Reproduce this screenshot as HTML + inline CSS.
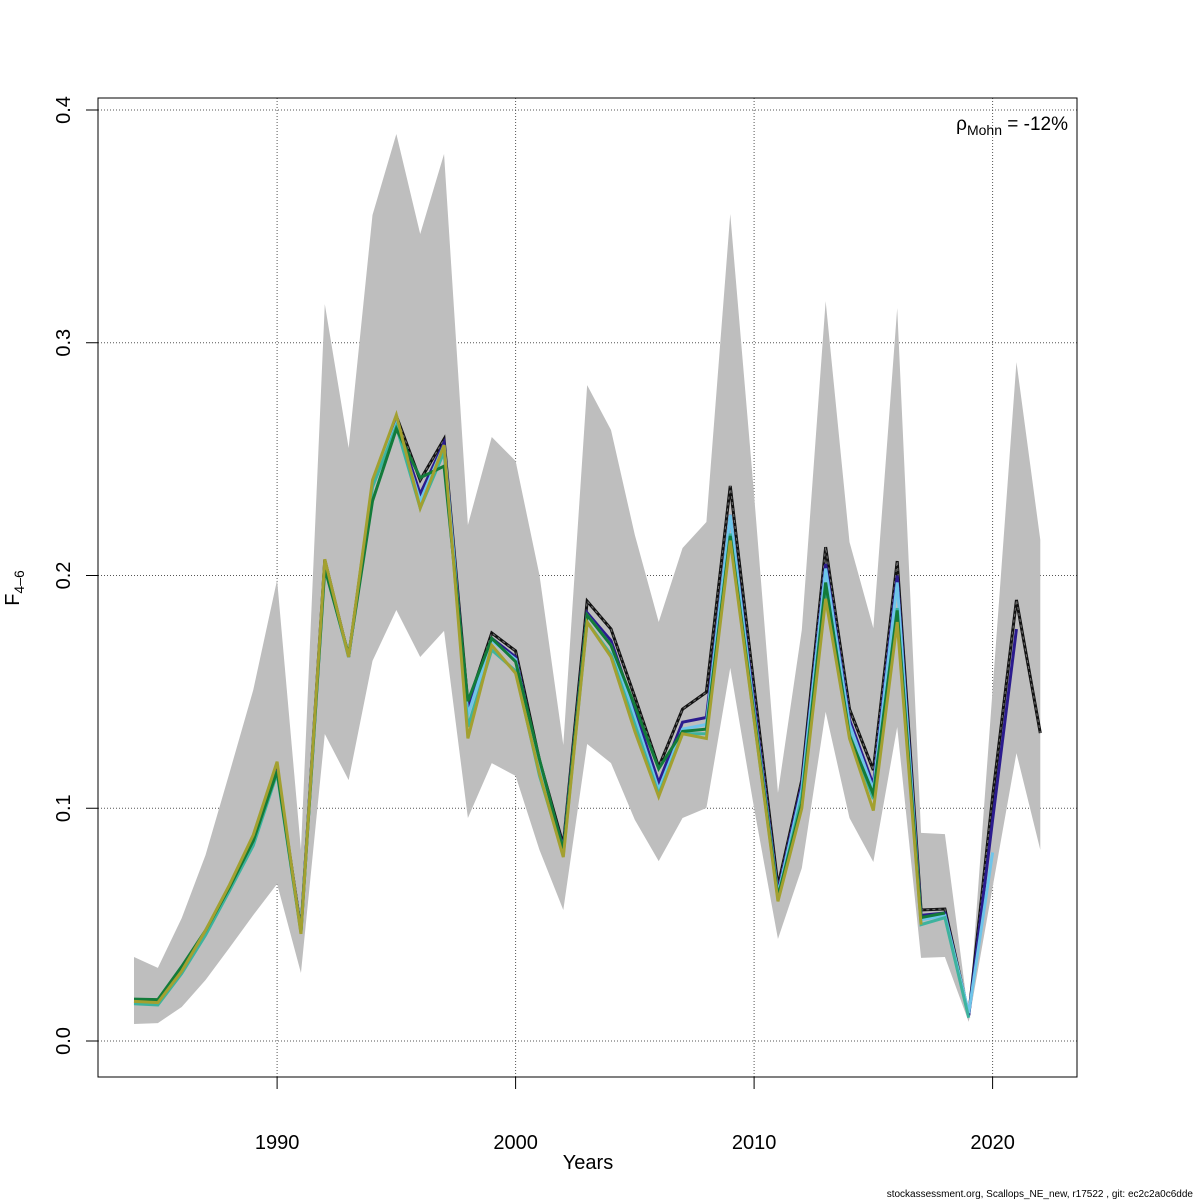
<!DOCTYPE html>
<html><head><meta charset="utf-8"><style>
html,body{margin:0;padding:0;background:#fff;}
svg{display:block;font-family:"Liberation Sans",sans-serif;}
</style></head><body>
<svg id="chart" width="1200" height="1200" viewBox="0 0 1200 1200" xmlns="http://www.w3.org/2000/svg">
<rect x="0" y="0" width="1200" height="1200" fill="#fff"/>
<g id="grid"></g>
<g id="band"></g>
<g id="main"></g>
<g id="peels"></g>
<rect x="98" y="98" width="979" height="979" fill="none" stroke="#000" stroke-width="1"/>
<g id="axes"></g>
<text x="588" y="1169" font-size="20" text-anchor="middle">Years</text>
<text transform="translate(19,588) rotate(-90)" font-size="20" text-anchor="middle">F<tspan font-size="14" dy="5">4–6</tspan></text>
<text x="1068" y="130" font-size="19" text-anchor="end">ρ<tspan font-size="14" dy="5">Mohn</tspan><tspan dy="-5"> = -12%</tspan></text>
<text x="1193" y="1197" font-size="10" text-anchor="end">stockassessment.org, Scallops_NE_new, r17522 , git: ec2c2a0c6dde</text>
</svg>
<script>
const years = [1984,1985,1986,1987,1988,1989,1990,1991,1992,1993,1994,1995,1996,1997,1998,1999,2000,2001,2002,2003,2004,2005,2006,2007,2008,2009,2010,2011,2012,2013,2014,2015,2016,2017,2018,2019,2020,2021,2022];
const mainF = [.0172,.0168,.0305,.0468,.0657,.0855,.1170,.0477,.2067,.1650,.2393,.2685,.2410,.2586,.1448,.1753,.1676,.1207,.0842,.1890,.1770,.1478,.1177,.1426,.1499,.2385,.1520,.0666,.1121,.2122,.1426,.1164,.2062,.0563,.0567,.0112,.1050,.1895,.1323];
const upperF = [.0361,.0314,.0528,.0799,.1151,.1508,.1981,.0821,.3166,.2548,.3549,.3897,.3467,.3811,.2217,.2595,.2492,.2002,.1272,.2818,.2625,.2174,.1800,.2118,.2230,.3553,.2346,.1066,.1766,.3179,.2144,.1774,.3149,.0894,.0889,.0103,.1510,.2917,.2153];
const lowerF = [.0073,.0077,.0146,.0262,.0400,.0541,.0675,.0292,.1319,.1121,.1633,.1852,.1650,.1762,.0958,.1194,.1139,.0821,.0563,.1276,.1194,.0950,.0773,.0958,.1001,.1603,.1000,.0438,.0743,.1414,.0958,.0769,.1349,.0357,.0361,.0082,.0660,.1237,.0821];
const peelBlue = [.0165,.0162,.0300,.0465,.0655,.0855,.1165,.0475,.2055,.1650,.2390,.2660,.2350,.2570,.1420,.1730,.1650,.1190,.0830,.1840,.1720,.1420,.1110,.1370,.1390,.2260,.1450,.0640,.1100,.2050,.1380,.1100,.2000,.0540,.0550,.0110,.0950,.1770];
const peelLightBlue = [.0162,.0160,.0295,.0462,.0650,.0850,.1160,.0470,.2050,.1650,.2385,.2650,.2320,.2560,.1400,.1720,.1640,.1180,.0820,.1830,.1700,.1390,.1080,.1340,.1360,.2260,.1420,.0630,.1080,.2030,.1360,.1080,.1970,.0520,.0540,.0120,.0810];
const peelTeal = [.0160,.0155,.0290,.0455,.0645,.0840,.1150,.0465,.2040,.1650,.2380,.2640,.2290,.2530,.1350,.1680,.1590,.1140,.0800,.1800,.1660,.1360,.1060,.1320,.1320,.2180,.1380,.0610,.1050,.1950,.1320,.1040,.1860,.0500,.0530,.0100];
const peelGreen = [.0180,.0178,.0320,.0475,.0660,.0860,.1160,.0470,.2030,.1660,.2320,.2630,.2420,.2470,.1460,.1730,.1630,.1210,.0820,.1830,.1700,.1440,.1170,.1330,.1340,.2170,.1400,.0620,.1020,.1970,.1310,.1060,.1850,.0530,.0550];
const peelOlive = [.0170,.0165,.0300,.0475,.0670,.0885,.1200,.0460,.2070,.1650,.2410,.2690,.2290,.2560,.1300,.1700,.1580,.1150,.0790,.1800,.1650,.1330,.1050,.1320,.1300,.2150,.1380,.0600,.1000,.1900,.1300,.0990,.1800,.0500];
const peelColors = ["#2B1B8E","#6EC5EA","#3DB39E","#137B3A","#A3A030"];
const xTicks = [1990,2000,2010,2020];
const yTicks = [0,0.1,0.2,0.3,0.4];
const yTickLabels = ["0.0","0.1","0.2","0.3","0.4"];

const NS="http://www.w3.org/2000/svg";
const X = yr => 134 + (yr-1984)*23.85;
const Y = v => 1041 - v*2327.5;
function mk(tag, parent, attrs){const e=document.createElementNS(NS,tag);for(const k in attrs)e.setAttribute(k,attrs[k]);parent.appendChild(e);return e;}
const grid=document.getElementById('grid'), axes=document.getElementById('axes');
xTicks.forEach(t=>{
  const l=mk('line',grid,{x1:X(t),x2:X(t),y1:98,y2:1077,stroke:'#555','stroke-width':1,'stroke-dasharray':'1,2'});
  
  
  const tk=mk('line',axes,{x1:X(t),x2:X(t),y1:1077,y2:1089,stroke:'#000'});
  
  
  const tx=mk('text',axes,{x:X(t),y:1149,'font-size':20,'text-anchor':'middle'});
  tx.textContent=t;
  
  
});
yTicks.forEach((t,i)=>{
  const l=mk('line',grid,{x1:98,x2:1077,y1:Y(t),y2:Y(t),stroke:'#555','stroke-width':1,'stroke-dasharray':'1,2'});
  
  
  const tk=mk('line',axes,{x1:86,x2:98,y1:Y(t),y2:Y(t),stroke:'#000'});
  
  
  const tx=mk('text',axes,{transform:`translate(70,${Y(t)}) rotate(-90)`,'font-size':20,'text-anchor':'middle'});
  tx.textContent=yTickLabels[i];
  
  
});
let pts=years.map((y,i)=>X(y)+','+Y(upperF[i]));
for(let i=years.length-1;i>=0;i--)pts.push(X(years[i])+','+Y(lowerF[i]));
const band=mk('polygon',document.getElementById('band'),{points:pts.join(' '),fill:'#bebebe',stroke:'none'});


const line = arr => arr.map((v,i)=>X(years[i])+','+Y(v)).join(' ');
const peelG=document.getElementById('peels');
[peelBlue,peelLightBlue,peelTeal,peelGreen,peelOlive].forEach((p,k)=>{
  const pl=mk('polyline',peelG,{points:line(p),fill:'none',stroke:peelColors[k],'stroke-width':3,'stroke-linejoin':'miter'});
  
  
});
const mg=document.getElementById('main');
const m1=mk('polyline',mg,{points:line(mainF),fill:'none',stroke:'#111','stroke-width':3});


const m2=mk('polyline',mg,{points:line(mainF),fill:'none',stroke:'#666','stroke-width':1.2,'stroke-dasharray':'3,3'});


</script>
</body></html>
